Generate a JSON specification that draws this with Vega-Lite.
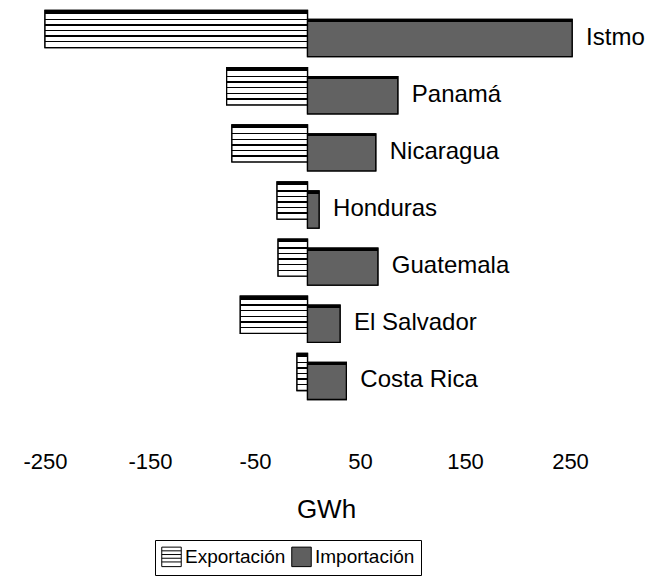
{
  "$schema": "https://vega.github.io/schema/vega-lite/v6.json",
  "width": 525,
  "height": 400,
  "autosize": "none",
  "padding": {"left": 45, "top": 5, "right": 97, "bottom": 172},
  "background": "white",
  "config": {
    "font": "Liberation Sans",
    "view": {"stroke": null}
  },
  "data": {
    "values": [
      {"pais": "Istmo", "tipo": "Exportación", "valor": -250},
      {"pais": "Istmo", "tipo": "Importación", "valor": 252},
      {"pais": "Panamá", "tipo": "Exportación", "valor": -77},
      {"pais": "Panamá", "tipo": "Importación", "valor": 86},
      {"pais": "Nicaragua", "tipo": "Exportación", "valor": -72},
      {"pais": "Nicaragua", "tipo": "Importación", "valor": 65},
      {"pais": "Honduras", "tipo": "Exportación", "valor": -29},
      {"pais": "Honduras", "tipo": "Importación", "valor": 11},
      {"pais": "Guatemala", "tipo": "Exportación", "valor": -28},
      {"pais": "Guatemala", "tipo": "Importación", "valor": 67},
      {"pais": "El Salvador", "tipo": "Exportación", "valor": -64},
      {"pais": "El Salvador", "tipo": "Importación", "valor": 31},
      {"pais": "Costa Rica", "tipo": "Exportación", "valor": -10},
      {"pais": "Costa Rica", "tipo": "Importación", "valor": 37}
    ]
  },
  "encoding": {
    "y": {
      "field": "pais",
      "type": "nominal",
      "sort": ["Istmo", "Panamá", "Nicaragua", "Honduras", "Guatemala", "El Salvador", "Costa Rica"],
      "scale": {"paddingInner": 0.35, "paddingOuter": 0.175},
      "axis": null
    },
    "x": {
      "field": "valor",
      "type": "quantitative",
      "scale": {"domain": [-250, 250], "nice": false, "zero": false},
      "axis": {
        "values": [-250, -150, -50, 50, 150, 250],
        "labelExpr": "'' + datum.value",
        "labelFlush": false,
        "labelOverlap": false,
        "domain": false,
        "ticks": false,
        "tickSize": 0,
        "grid": false,
        "labelFontSize": 22,
        "labelColor": "black",
        "labelPadding": 46,
        "title": "GWh",
        "titleFontSize": 26,
        "titleFontWeight": "normal",
        "titleColor": "black",
        "titlePadding": 24,
        "titleX": 281,
        "encode": {
          "labels": {
            "update": {
              "x": {"signal": "scale('x', datum.value) + (datum.value == -50 ? -23 : datum.value == 50 ? -25 : datum.value == 150 ? -5 : 0)"}
            }
          }
        }
      }
    }
  },
  "layer": [
    {
      "mark": {"type": "bar", "yOffset": -4.5, "stroke": "black", "strokeWidth": 1.3},
      "transform": [{"filter": "datum.tipo === 'Exportación'"}],
      "encoding": {
        "fill": {
          "field": "tipo",
          "type": "nominal",
          "scale": {"domain": ["Exportación", "Importación"], "range": ["white", "#5f5f5f"]},
          "legend": {
            "title": null,
            "orient": "none",
            "legendX": 110,
            "legendY": 535,
            "direction": "horizontal",
            "symbolType": "square",
            "symbolSize": 380,
            "symbolStrokeColor": "black",
            "symbolStrokeWidth": 1,
            "labelFontSize": 19,
            "labelColor": "black",
            "labelOffset": 3,
            "columnPadding": 3,
            "padding": 6,
            "strokeColor": "black",
            "fillColor": "white",
            "encode": {
              "symbols": {
                "update": {
                  "shape": {"signal": "datum.value === 'Exportación' ? 'M-1,-1H1V1H-1Z M-1,-0.62H1 M-1,-0.24H1 M-1,0.14H1 M-1,0.52H1' : 'square'"},
                  "stroke": {"value": "black"}
                }
              }
            }
          }
        }
      }
    },
    {
      "mark": {"type": "bar", "yOffset": 4.5, "stroke": "black", "strokeWidth": 1.3},
      "transform": [{"filter": "datum.tipo === 'Importación'"}],
      "encoding": {
        "fill": {"field": "tipo", "type": "nominal"}
      }
    },
    {
      "transform": [{"filter": "datum.tipo === 'Exportación'"}],
      "mark": {
        "type": "bar", "yOffset": -4.5, "stroke": "black", "strokeWidth": 1.3,
        "fill": {"gradient": "linear", "x1": 0, "y1": 0, "x2": 0, "y2": 1, "stops": [
          {"offset": 0, "color": "black"}, {"offset": 0.09, "color": "black"},
          {"offset": 0.09, "color": "white"}, {"offset": 0.22, "color": "white"},
          {"offset": 0.22, "color": "black"}, {"offset": 0.26, "color": "black"},
          {"offset": 0.26, "color": "white"}, {"offset": 0.37, "color": "white"},
          {"offset": 0.37, "color": "black"}, {"offset": 0.41, "color": "black"},
          {"offset": 0.41, "color": "white"}, {"offset": 0.52, "color": "white"},
          {"offset": 0.52, "color": "black"}, {"offset": 0.56, "color": "black"},
          {"offset": 0.56, "color": "white"}, {"offset": 0.67, "color": "white"},
          {"offset": 0.67, "color": "black"}, {"offset": 0.71, "color": "black"},
          {"offset": 0.71, "color": "white"}, {"offset": 0.82, "color": "white"},
          {"offset": 0.82, "color": "black"}, {"offset": 0.86, "color": "black"},
          {"offset": 0.86, "color": "white"}, {"offset": 1, "color": "white"}
        ]}
      },
      "encoding": {}
    },
    {
      "transform": [{"filter": "datum.tipo === 'Importación'"}],
      "mark": {
        "type": "bar", "yOffset": 4.5, "stroke": "black", "strokeWidth": 1.3,
        "fill": {"gradient": "linear", "x1": 0, "y1": 0, "x2": 0, "y2": 1, "stops": [
          {"offset": 0, "color": "black"}, {"offset": 0.07, "color": "black"},
          {"offset": 0.07, "color": "#626262"}, {"offset": 1, "color": "#626262"}
        ]}
      },
      "encoding": {}
    },
    {
      "transform": [{"filter": "datum.tipo === 'Importación'"}],
      "mark": {"type": "text", "align": "left", "baseline": "middle", "dx": 14, "yOffset": 4, "fontSize": 24, "color": "black"},
      "encoding": {
        "text": {"field": "pais", "type": "nominal"}
      }
    }
  ]
}
